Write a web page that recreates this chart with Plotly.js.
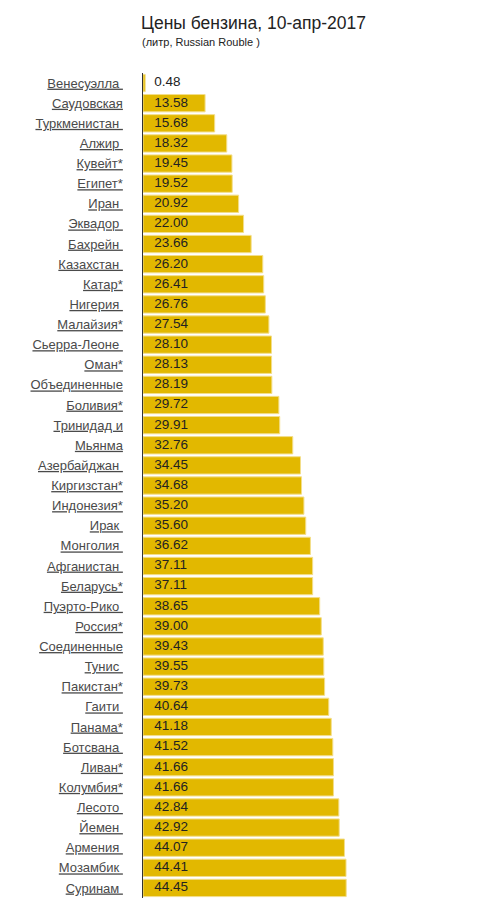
<!DOCTYPE html>
<html>
<head>
<meta charset="utf-8">
<script src="https://cdn.plot.ly/plotly-3.0.1.min.js"></script>
<style>
html,body{margin:0;padding:0;background:#fff;}
#chart{width:480px;height:900px;}
</style>
</head>
<body>
<div id="chart"></div>
<script>
const countries = [
  "Венесуэлла ", "Саудовская", "Туркменистан ", "Алжир ", "Кувейт*", "Египет*",
  "Иран ", "Эквадор ", "Бахрейн ", "Казахстан ", "Катар*", "Нигерия ",
  "Малайзия*", "Сьерра-Леоне ", "Оман*", "Объединенные", "Боливия*", "Тринидад и",
  "Мьянма", "Азербайджан ", "Киргизстан*", "Индонезия*", "Ирак ", "Монголия ",
  "Афганистан ", "Беларусь*", "Пуэрто-Рико ", "Россия*", "Соединенные", "Тунис ",
  "Пакистан*", "Гаити ", "Панама*", "Ботсвана ", "Ливан*", "Колумбия*",
  "Лесото ", "Йемен ", "Армения ", "Мозамбик ", "Суринам "
];
const prices = [
  0.48, 13.58, 15.68, 18.32, 19.45, 19.52,
  20.92, 22.00, 23.66, 26.20, 26.41, 26.76,
  27.54, 28.10, 28.13, 28.19, 29.72, 29.91,
  32.76, 34.45, 34.68, 35.20, 35.60, 36.62,
  37.11, 37.11, 38.65, 39.00, 39.43, 39.55,
  39.73, 40.64, 41.18, 41.52, 41.66, 41.66,
  42.84, 42.92, 44.07, 44.41, 44.45
];
const titleText = "Цены бензина, 10-апр-2017";
const subtitleText = "(литр, Russian Rouble )";

const ids = countries.map((c, i) => "c" + i);
const tickLabels = countries.map(c => "<u>" + c.replace(/ $/, "\u00a0") + "</u>");
const labels = prices.map(v => "\u00a0\u00a0\u00a0" + v.toFixed(2));
const n = countries.length;

const bars = {
  type: "bar",
  orientation: "h",
  y: ids,
  x: prices,
  marker: {color: "#E2B800", line: {color: "#F3DE8A", width: 1}},
  width: 0.86,
  hoverinfo: "none"
};
const texts = {
  type: "scatter",
  mode: "text",
  y: ids,
  x: prices.map(() => 0),
  text: labels,
  textposition: "middle right",
  textfont: {family: "Arial, 'Liberation Sans', sans-serif", size: 13.5, color: "#222"},
  hoverinfo: "none",
  cliponaxis: false
};

const layout = {
  width: 480, height: 900,
  margin: {l: 143, r: 17, t: 73, b: 2},
  paper_bgcolor: "#fff", plot_bgcolor: "#fff",
  showlegend: false,
  title: {
    text: titleText,
    font: {family: "Arial, 'Liberation Sans', sans-serif", size: 17.5, color: "#222"},
    xref: "container", x: 141/480, xanchor: "left",
    yref: "container", y: 1 - 23/900, yanchor: "middle"
  },
  annotations: [{
    text: subtitleText, xref: "paper", yref: "paper", x: 0, y: 1,
    xanchor: "left", yanchor: "bottom", yshift: 23, xshift: -3, showarrow: false,
    font: {family: "Arial, 'Liberation Sans', sans-serif", size: 11, color: "#222"}
  }],
  xaxis: {
    range: [0, 70], showgrid: false, zeroline: false, showticklabels: false,
    showline: false, fixedrange: true
  },
  yaxis: {
    type: "category", range: [n - 0.5, -0.5],
    tickmode: "array", tickvals: ids, ticktext: tickLabels,
    showgrid: false, zeroline: false,
    showline: true, linecolor: "#333", linewidth: 1.5,
    ticks: "", ticklabelstandoff: 16,
    tickfont: {family: "Arial, 'Liberation Sans', sans-serif", size: 13, color: "#4a4a4a"},
    fixedrange: true
  },
  bargap: 0.14
};

Plotly.newPlot("chart", [bars, texts], layout, {displayModeBar: false, staticPlot: true});
</script>
</body>
</html>
